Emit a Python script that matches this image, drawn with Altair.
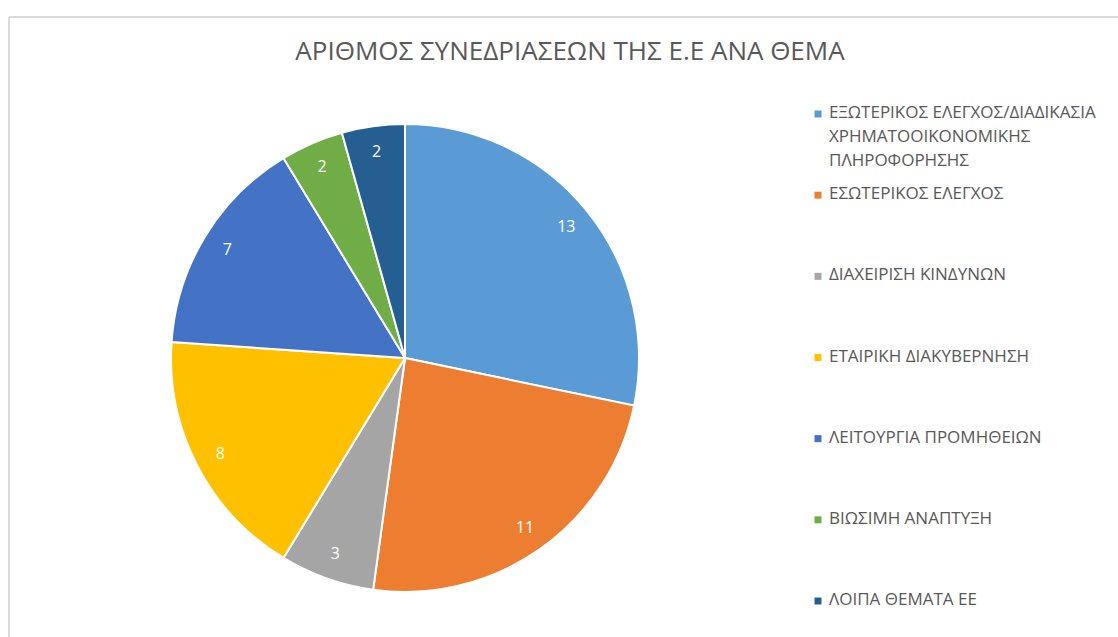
import altair as alt
import pandas as pd

categories = [
    "ΕΞΩΤΕΡΙΚΟΣ ΕΛΕΓΧΟΣ/ΔΙΑΔΙΚΑΣΙΑ ΧΡΗΜΑΤΟΟΙΚΟΝΟΜΙΚΗΣ ΠΛΗΡΟΦΟΡΗΣΗΣ",
    "ΕΣΩΤΕΡΙΚΟΣ ΕΛΕΓΧΟΣ",
    "ΔΙΑΧΕΙΡΙΣΗ ΚΙΝΔΥΝΩΝ",
    "ΕΤΑΙΡΙΚΗ ΔΙΑΚΥΒΕΡΝΗΣΗ",
    "ΛΕΙΤΟΥΡΓΙΑ ΠΡΟΜΗΘΕΙΩΝ",
    "ΒΙΩΣΙΜΗ ΑΝΑΠΤΥΞΗ",
    "ΛΟΙΠΑ ΘΕΜΑΤΑ ΕΕ",
]
legend_labels = [
    "ΕΞΩΤΕΡΙΚΟΣ ΕΛΕΓΧΟΣ/ΔΙΑΔΙΚΑΣΙΑ\nΧΡΗΜΑΤΟΟΙΚΟΝΟΜΙΚΗΣ\nΠΛΗΡΟΦΟΡΗΣΗΣ",
    "ΕΣΩΤΕΡΙΚΟΣ ΕΛΕΓΧΟΣ",
    "ΔΙΑΧΕΙΡΙΣΗ ΚΙΝΔΥΝΩΝ",
    "ΕΤΑΙΡΙΚΗ ΔΙΑΚΥΒΕΡΝΗΣΗ",
    "ΛΕΙΤΟΥΡΓΙΑ ΠΡΟΜΗΘΕΙΩΝ",
    "ΒΙΩΣΙΜΗ ΑΝΑΠΤΥΞΗ",
    "ΛΟΙΠΑ ΘΕΜΑΤΑ ΕΕ",
]
values = [13, 11, 3, 8, 7, 2, 2]
colors = ["#5B9BD5", "#ED7D31", "#A5A5A5", "#FFC000", "#4472C4", "#70AD47", "#255E91"]
title_text = "ΑΡΙΘΜΟΣ ΣΥΝΕΔΡΙΑΣΕΩΝ ΤΗΣ Ε.Ε ΑΝΑ ΘΕΜΑ"

FONT = "Open Sans"
TEXT_COLOR = "#595959"

df = pd.DataFrame({
    "cat": categories,
    "label": legend_labels,
    "value": values,
    "idx": list(range(len(categories))),
})

color_scale = alt.Scale(domain=categories, range=colors)
cx, cy = 405, 358

base = alt.Chart(df)

pie = base.mark_arc(outerRadius=234, stroke="white", strokeWidth=2).encode(
    theta=alt.Theta("value:Q", stack=True),
    order=alt.Order("idx:Q"),
    color=alt.Color("cat:N", scale=color_scale, legend=None),
    x=alt.value(cx),
    y=alt.value(cy),
)

labels = base.mark_text(radius=208, font=FONT, fontSize=16, color="white").encode(
    theta=alt.Theta("value:Q", stack=True),
    order=alt.Order("idx:Q"),
    text=alt.Text("value:Q"),
    x=alt.value(cx),
    y=alt.value(cy),
)

ypos = alt.Y("idx:Q", scale=alt.Scale(domain=[0, 6], range=[114, 601]), axis=None)

leg_sym = base.mark_square(size=49, opacity=1).encode(
    x=alt.value(818),
    y=ypos,
    color=alt.Color("cat:N", scale=color_scale, legend=None),
)

leg_txt = base.mark_text(
    font=FONT, fontSize=17, color=TEXT_COLOR, align="left", baseline="top",
    lineBreak="\n", lineHeight=24, dy=-9,
).encode(
    x=alt.value(829),
    y=ypos,
    text="label:N",
)

title = alt.Chart(pd.DataFrame({"t": [title_text]})).mark_text(
    font=FONT, fontSize=26, color=TEXT_COLOR, align="center", baseline="middle"
).encode(x=alt.value(570), y=alt.value(52), text="t:N")

border_top = alt.Chart(pd.DataFrame({"t": [0]})).mark_rule(color="#d9d9d9", strokeWidth=2).encode(
    x=alt.value(9), x2=alt.value(1118), y=alt.value(17)
)
border_left = alt.Chart(pd.DataFrame({"t": [0]})).mark_rule(color="#d9d9d9", strokeWidth=2).encode(
    x=alt.value(9), y=alt.value(17), y2=alt.value(637)
)

chart = alt.layer(border_top, border_left, pie, labels, leg_sym, leg_txt, title).properties(
    width=1118, height=637, padding=0, autosize=alt.AutoSizeParams(type="none"),
    background="white",
).configure_view(stroke=None)

chart.save("out.html", embed_options={"renderer": "svg", "actions": False})
